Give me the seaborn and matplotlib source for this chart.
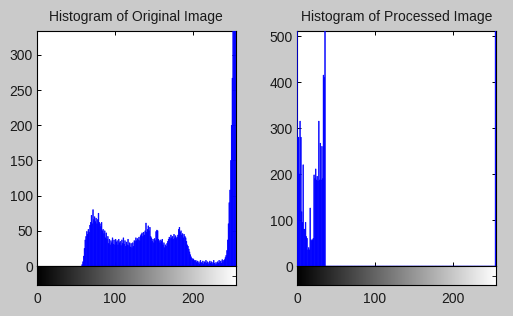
import numpy as np
import pandas as pd
import matplotlib
matplotlib.use("Agg")
import matplotlib.pyplot as plt
import seaborn as sns

# ---- data ----
left_titles = "Histogram of Original Image"
right_titles = "Histogram of Processed Image"

orig_levels = list(range(58, 256))
orig_counts = [
    2, 6, 14, 25, 37, 42, 49, 45, 52, 48,        # 58-67
    58, 62, 72, 60, 80, 66, 70, 63, 68, 60,      # 68-77
    66, 75, 62, 60, 56, 62, 50, 52, 46, 50,      # 78-87
    40, 47, 38, 42, 32, 38, 30, 36, 33, 40,      # 88-97
    31, 37, 30, 38, 34, 36, 30, 38, 33, 35,      # 98-107
    29, 37, 32, 40, 31, 36, 28, 34, 30, 38,      # 108-117
    29, 33, 27, 32, 26, 33, 28, 36, 35, 40,      # 118-127
    36, 39, 37, 41, 36, 43, 45, 47, 42, 48,      # 128-137
    44, 50, 61, 48, 52, 57, 50, 55, 42, 40,      # 138-147
    35, 38, 33, 39, 36, 49, 51, 50, 38, 36,      # 148-157
    33, 37, 35, 38, 30, 33, 26, 30, 28, 32,      # 158-167
    35, 38, 41, 39, 44, 40, 42, 38, 45, 40,      # 168-177
    43, 39, 41, 44, 52, 55, 48, 50, 44, 46,      # 178-187
    40, 45, 42, 40, 35, 30, 28, 24, 20, 16,      # 188-197
    13, 11, 9, 10, 8, 7, 8, 5, 7, 4,             # 198-207
    6, 3, 8, 5, 4, 7, 3, 6, 5, 8,                # 208-217
    4, 6, 3, 5, 7, 4, 6, 3, 5, 8,                # 218-227
    4, 2, 5, 3, 6, 4, 8, 5, 7, 4,                # 228-237
    9, 6, 8, 9, 12, 15, 22, 37, 60, 90,          # 238-247
    108, 150, 200, 267, 400, 600, 800, 900,      # 248-255
]

proc_levels = [0, 1, 2, 3, 4, 5, 6, 7, 8, 9, 10, 11, 12, 13, 14, 15, 16, 17, 18,
               19, 20, 21, 22, 23, 24, 25, 26, 27, 28, 29, 30, 31, 32, 33, 34,
               35, 36, 255]
proc_counts = [900, 280, 280, 200, 315, 280, 118, 95, 220, 80, 80, 95, 64, 60,
               35, 40, 35, 126, 57, 55, 57, 60, 198, 190, 211, 187, 195, 185,
               315, 187, 267, 187, 260, 190, 415, 410, 600, 900]

orig_yticks = [0, 50, 100, 150, 200, 250, 300]
orig_ylim = 334
proc_yticks = [0, 100, 200, 300, 400, 500]
proc_ylim = 511
x_ticks = [0, 100, 200]

# ---- style ----
BG = "#cacaca"
sns.set_theme(style="white")
plt.rcParams["font.family"] = ["Liberation Sans", "DejaVu Sans"]
plt.rcParams["font.size"] = 10
TXT = "#1a1a1a"

fig = plt.figure(figsize=(5.13, 3.16), dpi=100, facecolor=BG)
W, H = 513.0, 316.0


def fr(x0, y0, x1, y1):
    return [x0 / W, 1 - y1 / H, (x1 - x0) / W, (y1 - y0) / H]


gradient = np.linspace(0, 1, 256)[None, :]

panels = [
    (37, orig_levels, orig_counts, orig_yticks, orig_ylim, left_titles),
    (297, proc_levels, proc_counts, proc_yticks, proc_ylim, right_titles),
]

for x0, lv, ct, yt, ylim, title in panels:
    ax = fig.add_axes(fr(x0, 31, x0 + 198.5, 266))
    cax = fig.add_axes(fr(x0, 266, x0 + 198.5, 285))
    df = pd.DataFrame({"level": lv, "count": ct})
    sns.histplot(data=df, x="level", weights="count", discrete=True,
                 shrink=1.0, color="#0000ff", alpha=1, linewidth=0.4,
                 edgecolor="#0000ff", ax=ax, zorder=3)
    for p in ax.patches:
        p.set_snap(False)
    ax.set_facecolor("white")
    ax.set_xlim(0, 255)
    ax.set_ylim(0, ylim)
    ax.set_xticks(x_ticks)
    ax.set_yticks(yt)
    ax.set_xlabel("")
    ax.set_ylabel("")
    ax.tick_params(direction="in", length=3, width=0.7, top=True, right=True,
                   bottom=True, left=True, labelbottom=False,
                   labelsize=10, labelcolor=TXT, colors="black", pad=3)
    ax.tick_params(axis="y", labelcolor=TXT)
    for s in ax.spines.values():
        s.set_color("black")
        s.set_linewidth(0.8)
    ax.set_title(title, fontsize=10, color=TXT, pad=7)

    cax.imshow(gradient, aspect="auto", cmap="gray",
               extent=[-0.5, 255.5, 0, 1], interpolation="bilinear")
    cax.set_xlim(0, 255)
    cax.set_ylim(0, 1)
    cax.set_xticks(x_ticks)
    cax.set_xticklabels([str(t) for t in x_ticks])
    cax.set_yticks([0.5])
    cax.tick_params(axis="x", direction="in", length=0, labelsize=10,
                    labelcolor=TXT, pad=5)
    cax.tick_params(axis="y", direction="in", length=3, width=0.7, left=False,
                    right=True, labelleft=False)
    for s in cax.spines.values():
        s.set_color("black")
        s.set_linewidth(0.8)

fig.savefig("out.png", dpi=100, facecolor=BG)
